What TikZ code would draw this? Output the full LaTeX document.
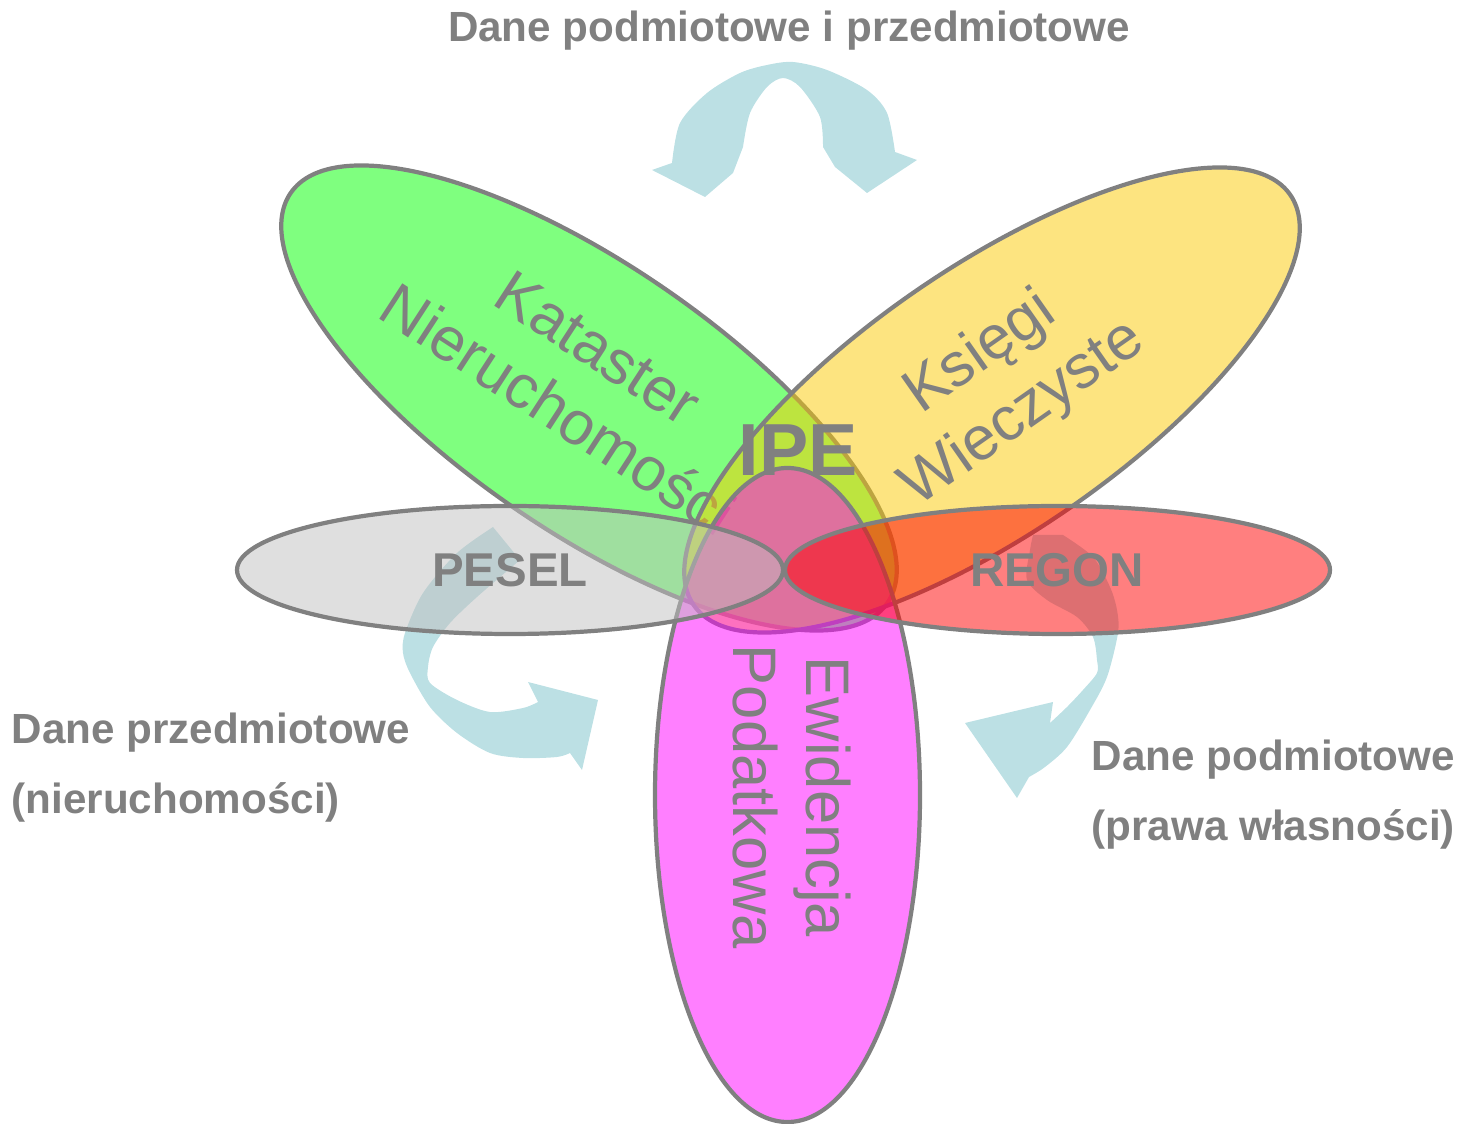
\documentclass[tikz,border=0pt]{standalone}
\usepackage{fontspec}
\setmainfont{Liberation Sans}
\usepackage{tikz}
\definecolor{kngreen}{RGB}{0,255,0}
\definecolor{kwyellow}{RGB}{251,201,1}
\definecolor{epmagenta}{RGB}{255,0,255}
\definecolor{peselgrey}{RGB}{192,192,192}
\definecolor{regonred}{RGB}{255,0,0}
\definecolor{labelgrey}{RGB}{128,128,128}
\definecolor{flowblue}{RGB}{188,224,228}

\begin{document}
\begin{tikzpicture}[
    petal/.style={draw=labelgrey, line width=1.2pt, fill opacity=0.5},
    petaltext/.style={labelgrey, align=center, inner sep=0pt, font=\fontsize{17.5}{21}\selectfont},
    regtext/.style={labelgrey, inner sep=0pt, font=\bfseries\fontsize{13.5}{16}\selectfont},
    sidelabel/.style={labelgrey, align=left, inner sep=0pt, font=\bfseries\fontsize{12}{20}\selectfont},
    flow/.style={fill=flowblue}
  ]
  \useasboundingbox (0,0) rectangle (14.64,11.23);

  % exchange arrows (under the registers)
  \fill[flow] plot[smooth] coordinates {(6.72,9.60) (6.80,10.00) (7.07,10.30) (7.40,10.50) (7.67,10.58) (7.93,10.61) (8.27,10.53) (8.67,10.33) (8.87,10.10) (8.95,9.71)}
    -- (9.17,9.63) -- (8.67,9.30) -- (8.35,9.56) -- (8.23,9.76)
    -- plot[smooth] coordinates {(8.23,9.76) (8.20,10.06) (8.00,10.36) (7.83,10.45) (7.67,10.36) (7.50,10.10) (7.43,9.76)}
    -- (7.33,9.50) -- (7.05,9.26) -- (6.52,9.53) -- cycle;
  \fill[flow] plot[smooth] coordinates {(4.93,5.96) (4.57,5.70) (4.23,5.30) (4.05,4.90) (4.03,4.70) (4.10,4.50) (4.30,4.16) (4.57,3.90) (4.90,3.70) (5.23,3.65) (5.57,3.66) (5.70,3.70)}
    -- (5.82,3.53) -- (5.98,4.23) -- (5.28,4.41) -- (5.38,4.21)
    -- plot[smooth] coordinates {(5.38,4.21) (5.23,4.15) (4.90,4.11) (4.57,4.23) (4.30,4.40) (4.28,4.56) (4.33,4.76) (4.50,5.00) (4.77,5.26) (5.20,5.63)}
    -- cycle;
  \fill[flow] (10.33,5.88) -- (10.63,5.88)
    -- plot[smooth] coordinates {(10.63,5.88) (10.93,5.66) (11.10,5.36) (11.17,5.13) (11.18,4.90) (11.07,4.46) (10.90,4.13) (10.67,3.76) (10.45,3.56) (10.29,3.46)}
    -- (10.17,3.25) -- (9.65,4.00) -- (10.53,4.21) -- (10.50,4.00)
    -- plot[smooth] coordinates {(10.50,4.00) (10.67,4.16) (10.83,4.33) (10.97,4.50) (10.97,4.63) (10.93,4.86) (10.77,5.06) (10.47,5.23) (10.27,5.43) (10.30,5.73) (10.33,5.88)}
    -- cycle;

  % registers
  \filldraw[petal, fill=kngreen, rotate around={-34.5:(5.89,7.25)}] (5.89,7.25) ellipse [x radius=3.62, y radius=1.33];
  \node[petaltext, rotate=-33] (kataster) at (5.78,7.44) {Kataster\\Nieruchomości};
  \filldraw[petal, fill=kwyellow, rotate around={34.5:(9.92,7.23)}] (9.92,7.23) ellipse [x radius=3.62, y radius=1.33];
  \node[petaltext, rotate=35] (ksiegi) at (10.02,7.39) {Księgi\\Wieczyste};
  \filldraw[petal, fill=epmagenta] (7.875,3.28) ellipse [x radius=1.325, y radius=3.27];
  \node[petaltext, rotate=-90] (ewidencja) at (7.92,3.26) {Ewidencja\\Podatkowa};
  \filldraw[petal, fill=peselgrey] (5.10,5.53) ellipse [x radius=2.73, y radius=0.64];
  \node[regtext] (pesel) at (5.10,5.53) {PESEL};
  \filldraw[petal, fill=regonred] (10.575,5.53) ellipse [x radius=2.725, y radius=0.64];
  \node[regtext] (regon) at (10.57,5.53) {REGON};
  \node[labelgrey, inner sep=0pt, font=\bfseries\fontsize{21}{25}\selectfont] (ipe) at (7.98,6.73) {IPE};

  % data flows
  \node[sidelabel, anchor=base] (topdata) at (7.89,10.81) {Dane podmiotowe i przedmiotowe};
  \node[sidelabel, anchor=north west] (leftdata) at (0.11,4.11) {Dane przedmiotowe\\(nieruchomości)};
  \node[sidelabel, anchor=north west] (rightdata) at (10.91,3.84) {Dane podmiotowe\\(prawa własności)};
\end{tikzpicture}
\end{document}
